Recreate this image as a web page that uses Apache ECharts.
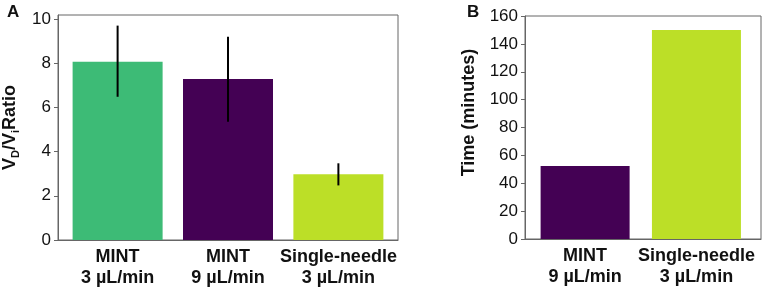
<!DOCTYPE html>
<html>
<head>
<meta charset="utf-8">
<script src="https://cdn.jsdelivr.net/npm/echarts@6/dist/echarts.min.js"></script>
<style>
  html, body { margin: 0; padding: 0; background: #fff; }
  #chart { width: 765px; height: 289px; }
</style>
</head>
<body>
<div id="chart"></div>
<script>
// panel A: volume ratio
const catsA = ['MINT\n3 µL/min', 'MINT\n9 µL/min', 'Single-needle\n3 µL/min'];
const ratioA = [8.07, 7.29, 2.97];
const errLowA = [6.48, 5.35, 2.47];
const errHighA = [9.7, 9.2, 3.47];
const colorsA = ['#3dbb76', '#440154', '#bcdf27'];

// panel B: time
const catsB = ['MINT\n9 µL/min', 'Single-needle\n3 µL/min'];
const timeB = [52.4, 150];
const colorsB = ['#440154', '#bcdf27'];

const font = 'Liberation Sans';
const axisGray = '#666';

function xAxisFor(cats, gridIndex, min, max) {
  return {
    type: 'value', gridIndex, min, max,
    axisLine: { show: true, onZero: false, lineStyle: { color: axisGray } },
    axisTick: { show: false },
    splitLine: { show: false },
    axisLabel: {
      customValues: cats.map((c, i) => i),
      formatter: v => cats[Math.round(v)] || '',
      fontFamily: font, fontSize: 18, fontWeight: 'bold', color: '#111',
      lineHeight: 21, margin: 7
    }
  };
}

function yAxisFor(gridIndex, max, interval, name, nameGap, nameStyle) {
  return {
    type: 'value', gridIndex, min: 0, max, interval,
    name, nameLocation: 'middle', nameGap,
    nameTextStyle: nameStyle,
    axisLine: { show: true, onZero: false, lineStyle: { color: axisGray } },
    axisTick: { show: true, length: 4, lineStyle: { color: axisGray } },
    splitLine: { show: false },
    axisLabel: { fontFamily: font, fontSize: 17, color: '#111', margin: 7 }
  };
}

const chart = echarts.init(document.getElementById('chart'), null, { renderer: 'canvas' });

chart.setOption({
  animation: false,
  grid: [
    { left: 51, top: 15, width: 347, height: 225, show: true, borderColor: axisGray, borderWidth: 1 },
    { left: 525, top: 16, width: 236, height: 223, show: true, borderColor: axisGray, borderWidth: 1 }
  ],
  title: [
    { text: 'A', left: 2, top: -1, textStyle: { fontFamily: font, fontSize: 17, fontWeight: 'bold', color: '#111' } },
    { text: 'B', left: 462, top: -1, textStyle: { fontFamily: font, fontSize: 17, fontWeight: 'bold', color: '#111' } }
  ],
  xAxis: [
    xAxisFor(catsA, 0, -0.54, 2.54),
    xAxisFor(catsB, 1, -0.54, 1.58)
  ],
  yAxis: [
    yAxisFor(0, 10.18, 2, '{b|V}{sub|D}{b|/V}{sub|i}{b|Ratio}', 37, {
      fontFamily: font, fontSize: 18, fontWeight: 'bold', color: '#111',
      rich: {
        b: { fontFamily: font, fontSize: 18, fontWeight: 'bold', color: '#111', lineHeight: 22 },
        sub: { fontFamily: font, fontSize: 11, fontWeight: 'bold', color: '#111', lineHeight: 12, verticalAlign: 'bottom' }
      }
    }),
    yAxisFor(1, 160, 20, 'Time (minutes)', 47, {
      fontFamily: font, fontSize: 18, fontWeight: 'bold', color: '#111',
      padding: [0, 0, 0, 30]
    })
  ],
  series: [
    {
      type: 'bar', xAxisIndex: 0, yAxisIndex: 0, barWidth: 90,
      data: ratioA.map((v, i) => ({ value: [i, v], itemStyle: { color: colorsA[i] } }))
    },
    {
      type: 'custom', xAxisIndex: 0, yAxisIndex: 0, z: 5,
      data: ratioA.map((v, i) => [i, errLowA[i], errHighA[i]]),
      renderItem: (params, api) => {
        const lo = api.coord([api.value(0), api.value(1)]);
        const hi = api.coord([api.value(0), api.value(2)]);
        return {
          type: 'line',
          shape: { x1: lo[0], y1: lo[1], x2: hi[0], y2: hi[1] },
          style: { stroke: '#000', lineWidth: 2 }
        };
      }
    },
    {
      type: 'bar', xAxisIndex: 1, yAxisIndex: 1, barWidth: 89,
      data: timeB.map((v, i) => ({ value: [i, v], itemStyle: { color: colorsB[i] } }))
    }
  ]
});
</script>
</body>
</html>
